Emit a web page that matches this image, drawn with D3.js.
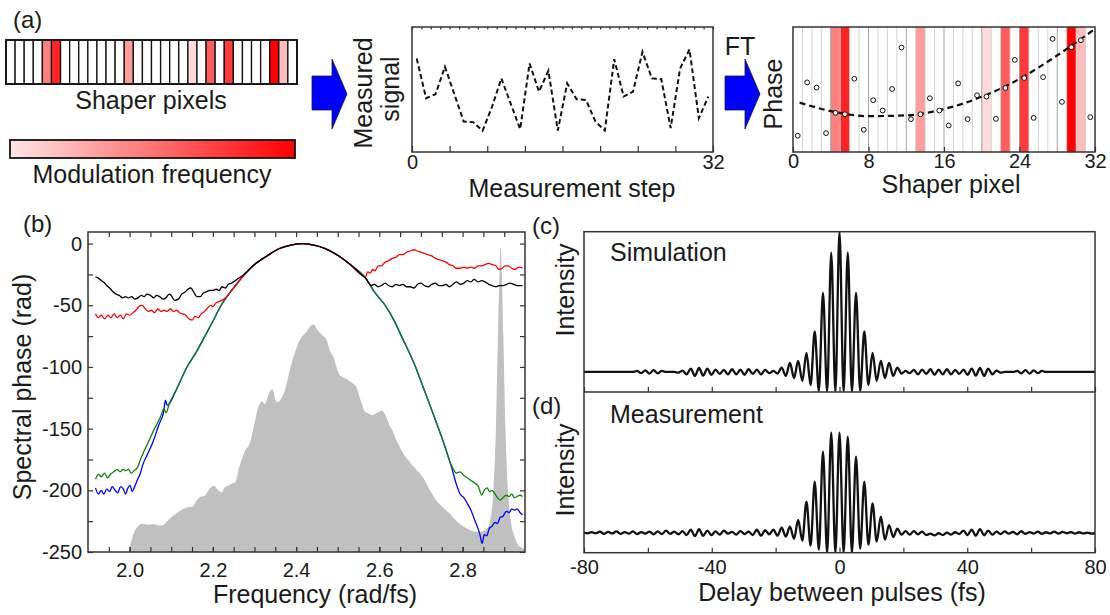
<!DOCTYPE html>
<html>
<head>
<meta charset="utf-8">
<script src="https://cdn.jsdelivr.net/npm/d3@7"></script>
<style>
  body { margin: 0; background: #fff; }
  svg { display: block; font-family: "Liberation Sans", Arial, sans-serif; }
</style>
</head>
<body>
<svg id="fig" width="1110" height="615"></svg>
<script>
// ---------------- data ----------------

// (a) shaper pixels that carry a modulation, and their modulation frequency (0..1)
const modPixels = [4, 5, 13, 20, 22, 24, 29, 30];
const modLevels = [0.45, 0.85, 0.32, 0.05, 0.6, 0.75, 1.0, 0.18];

// (a) measured signal for the 32 measurement steps
const measuredSignal = [0.748, 0.430, 0.462, 0.682, 0.463, 0.244, 0.239, 0.170,
  0.360, 0.589, 0.385, 0.183, 0.708, 0.483, 0.650, 0.172,
  0.549, 0.422, 0.416, 0.244, 0.172, 0.743, 0.443, 0.483,
  0.801, 0.589, 0.584, 0.191, 0.668, 0.820, 0.271, 0.443];

// (a) retrieved phase per shaper pixel and the fitted curve
const pixelPhase = [0.130, 0.557, 0.515, 0.151, 0.313, 0.302, 0.586, 0.178,
  0.414, 0.332, 0.504, 0.836, 0.263, 0.302, 0.430, 0.332,
  0.212, 0.549, 0.263, 0.454, 0.443, 0.265, 0.512, 0.737,
  0.592, 0.273, 0.599, 0.905, 0.401, 0.838, 0.894, 0.279];
const fitPixel = [0.7, 4, 8, 12, 16, 20, 24, 28, 31.9];
const fitPhase = [0.395, 0.327, 0.287, 0.293, 0.344, 0.442, 0.585, 0.773, 0.979];

// (b) spectrum [frequency rad/fs, normalised intensity]
const spectrum = [[1.998,0],[2.005,0.04],[2.015,0.075],[2.031,0.092],[2.045,0.088],[2.057,0.09],
  [2.068,0.087],[2.078,0.086],[2.09,0.1],[2.1,0.113],[2.115,0.128],[2.13,0.14],[2.14,0.145],
  [2.151,0.147],[2.16,0.165],[2.168,0.177],[2.181,0.183],[2.192,0.205],[2.203,0.215],[2.213,0.2],
  [2.221,0.194],[2.229,0.21],[2.237,0.215],[2.246,0.222],[2.254,0.226],[2.262,0.27],[2.267,0.291],
  [2.278,0.33],[2.288,0.35],[2.298,0.404],[2.309,0.469],[2.318,0.489],[2.325,0.48],[2.335,0.515],
  [2.343,0.527],[2.352,0.49],[2.358,0.487],[2.365,0.5],[2.373,0.524],[2.385,0.59],[2.399,0.654],
  [2.41,0.69],[2.425,0.714],[2.433,0.73],[2.443,0.738],[2.449,0.725],[2.455,0.714],[2.465,0.7],
  [2.473,0.689],[2.482,0.65],[2.49,0.632],[2.497,0.6],[2.503,0.578],[2.51,0.568],[2.52,0.562],
  [2.533,0.55],[2.545,0.535],[2.552,0.505],[2.558,0.481],[2.563,0.46],[2.573,0.45],[2.584,0.444],
  [2.595,0.452],[2.606,0.458],[2.612,0.45],[2.618,0.433],[2.625,0.41],[2.631,0.395],[2.642,0.36],
  [2.653,0.33],[2.668,0.3],[2.683,0.276],[2.697,0.255],[2.709,0.233],[2.722,0.2],[2.734,0.173],
  [2.75,0.148],[2.769,0.125],[2.786,0.1],[2.803,0.082],[2.82,0.07],[2.837,0.065],[2.85,0.068],
  [2.859,0.076],[2.866,0.1],[2.874,0.2],[2.88,0.4],[2.885,0.7],[2.889,0.92],[2.891,0.99],
  [2.894,0.92],[2.898,0.7],[2.903,0.4],[2.909,0.2],[2.916,0.1],[2.925,0.05],[2.935,0.02],[2.95,0.01]];

// (b) spectral phase traces [frequency, phase rad]
const blueTrace = [[1.918,-198],[1.925,-203],[1.932,-200],[1.938,-203],[1.945,-199],[1.952,-201],
  [1.958,-197],[1.965,-200],[1.972,-202],[1.978,-197],[1.985,-199],[1.99,-203],[1.996,-198],
  [2.001,-196],[2.006,-201],[2.012,-197],[2.018,-192],[2.026,-186],[2.031,-180],[2.044,-170],
  [2.057,-160],[2.07,-147],[2.082,-136],[2.086,-127],[2.09,-131],[2.095,-130],[2.11,-120],
  [2.138,-100],[2.16,-88],[2.181,-75],[2.2,-63],[2.22,-50],[2.245,-38],[2.271,-27],[2.3,-17],
  [2.33,-10],[2.36,-4],[2.39,-1],[2.415,0],[2.44,-1],[2.47,-4],[2.5,-9.5],[2.53,-17],[2.567,-28],
  [2.59,-40],[2.614,-50],[2.635,-62],[2.653,-75],[2.67,-87],[2.687,-100],[2.706,-117],[2.726,-135],
  [2.75,-157],[2.775,-183],[2.785,-195],[2.794,-203],[2.803,-206],[2.812,-211],[2.82,-216],
  [2.829,-224],[2.835,-229],[2.841,-235],[2.847,-243],[2.852,-236],[2.858,-237],[2.864,-231],
  [2.871,-229],[2.878,-226],[2.884,-227],[2.89,-222],[2.897,-221],[2.905,-217],[2.912,-218],
  [2.918,-215],[2.925,-216],[2.931,-215],[2.938,-218],[2.944,-220]];
const greenTrace = [[1.918,-191],[1.925,-187],[1.932,-189],[1.94,-186],[1.947,-190],[1.954,-187],
  [1.962,-185],[1.97,-183],[1.977,-185],[1.984,-183],[1.99,-184],[1.997,-183],[2.004,-186],
  [2.011,-184],[2.018,-182],[2.026,-175],[2.035,-168],[2.046,-160],[2.057,-152],[2.066,-146],
  [2.075,-140],[2.082,-134],[2.088,-137],[2.095,-130],[2.11,-120],[2.138,-100],[2.16,-88],
  [2.181,-75],[2.2,-63],[2.22,-50],[2.245,-38],[2.271,-27],[2.3,-17],[2.33,-10],[2.36,-4],
  [2.39,-1],[2.415,0],[2.44,-1],[2.47,-4],[2.5,-9.5],[2.53,-17],[2.567,-28],[2.59,-40],[2.614,-50],
  [2.635,-62],[2.653,-75],[2.67,-87],[2.687,-100],[2.706,-117],[2.726,-135],[2.75,-157],[2.775,-181],
  [2.785,-186],[2.794,-185],[2.803,-188],[2.812,-190],[2.82,-192],[2.829,-194],[2.838,-197],
  [2.846,-204],[2.852,-200],[2.859,-198],[2.865,-201],[2.871,-200],[2.878,-203],[2.884,-206],
  [2.89,-208],[2.897,-206],[2.905,-204],[2.912,-205],[2.918,-203],[2.925,-206],[2.931,-205],
  [2.938,-204],[2.944,-205]];
const redTrace = [[1.918,-57],[1.925,-60],[1.932,-58],[1.94,-61],[1.948,-58],[1.955,-60],[1.963,-57],
  [1.97,-60],[1.978,-58],[1.985,-61],[1.992,-57],[2.0,-58],[2.008,-56],[2.015,-54],[2.022,-51],
  [2.03,-50],[2.038,-53],[2.045,-55],[2.052,-54],[2.06,-56],[2.068,-53],[2.075,-55],[2.083,-54],
  [2.09,-55],[2.098,-53],[2.105,-55],[2.113,-54],[2.12,-56],[2.128,-57],[2.135,-58],[2.142,-61],
  [2.15,-62],[2.157,-59],[2.165,-60],[2.172,-57],[2.18,-55],[2.188,-52],[2.195,-50],[2.2,-51],
  [2.208,-48],[2.215,-47],[2.222,-46],[2.23,-44],[2.245,-38],[2.26,-32],[2.271,-27],[2.3,-17],
  [2.33,-10],[2.36,-4],[2.39,-1],[2.415,0],[2.44,-1],[2.47,-4],[2.5,-9.5],[2.53,-17],[2.56,-26],
  [2.567,-27],[2.572,-23],[2.578,-24],[2.584,-21],[2.59,-22],[2.597,-18],[2.605,-18],[2.614,-15],
  [2.622,-14],[2.631,-12],[2.64,-11],[2.648,-9],[2.657,-9],[2.665,-7],[2.674,-6],[2.683,-5],
  [2.69,-6],[2.7,-7],[2.708,-8],[2.717,-9],[2.726,-10],[2.735,-12],[2.743,-13],[2.752,-14],
  [2.76,-15],[2.768,-17],[2.777,-18],[2.785,-20],[2.794,-20],[2.803,-19],[2.811,-20],[2.82,-19],
  [2.829,-20],[2.837,-18],[2.846,-18],[2.854,-17],[2.863,-16],[2.871,-17],[2.88,-18],[2.888,-21],
  [2.895,-20],[2.902,-18],[2.91,-18],[2.918,-20],[2.926,-21],[2.935,-19],[2.944,-20]];
const blackTrace = [[1.918,-27],[1.925,-28],[1.932,-30],[1.94,-32],[1.945,-34],[1.952,-36],[1.96,-39],
  [1.968,-41],[1.975,-42],[1.983,-44],[1.99,-43],[1.997,-44],[2.005,-43],[2.012,-45],[2.02,-44],
  [2.028,-42],[2.035,-43],[2.042,-41],[2.05,-42],[2.058,-44],[2.065,-42],[2.072,-43],[2.08,-45],
  [2.087,-44],[2.095,-41],[2.1,-42],[2.108,-46],[2.117,-45],[2.125,-41],[2.134,-39],[2.14,-37],
  [2.147,-36],[2.155,-40],[2.162,-43],[2.17,-43],[2.177,-40],[2.185,-39],[2.193,-38],[2.2,-38],
  [2.208,-37],[2.215,-38],[2.222,-35],[2.23,-36],[2.237,-33],[2.245,-32],[2.254,-30],[2.262,-28],
  [2.271,-26],[2.3,-17],[2.33,-10],[2.36,-4],[2.39,-1],[2.415,0],[2.44,-1],[2.47,-4],[2.5,-9.5],
  [2.53,-17],[2.56,-26],[2.567,-28],[2.575,-32],[2.58,-34],[2.588,-33],[2.597,-35],[2.605,-34],
  [2.614,-32],[2.622,-34],[2.631,-35],[2.64,-33],[2.648,-34],[2.657,-33],[2.665,-35],[2.674,-35],
  [2.683,-36],[2.692,-33],[2.7,-32],[2.708,-34],[2.717,-35],[2.726,-33],[2.734,-32],[2.743,-34],
  [2.752,-34],[2.76,-33],[2.768,-35],[2.777,-33],[2.785,-31],[2.794,-33],[2.803,-32],[2.811,-30],
  [2.82,-31],[2.828,-29],[2.837,-31],[2.846,-30],[2.854,-31],[2.863,-33],[2.871,-34],[2.88,-35],
  [2.888,-34],[2.897,-34],[2.906,-33],[2.914,-32],[2.923,-33],[2.932,-34],[2.944,-34]];

// (c),(d) fringe extrema: delay (fs) and intensity (background = 1)
const fringeDelay = [-80, -78.90, -77.61, -76.32, -75.02, -73.73, -72.44, -71.14, -69.85, -68.56,
  -67.26, -65.97, -64.68, -63.38, -62.09, -60.79, -59.50, -58.21, -56.91, -55.62, -54.33, -53.03,
  -51.74, -50.45, -49.15, -47.86, -46.57, -45.27, -43.98, -42.69, -41.39, -40.10, -38.81, -37.51,
  -36.22, -34.92, -33.63, -32.34, -31.04, -29.75, -28.46, -27.16, -25.87, -24.58, -23.28, -21.99,
  -20.70, -19.40, -18.11, -16.82, -15.52, -14.23, -12.94, -11.64, -10.35, -9.05, -7.76, -6.47,
  -5.17, -3.88, -2.59, -1.29, 0, 1.29, 2.59, 3.88, 5.17, 6.47, 7.76, 9.05, 10.35, 11.64, 12.94,
  14.23, 15.52, 16.82, 18.11, 19.40, 20.70, 21.99, 23.28, 24.58, 25.87, 27.16, 28.46, 29.75, 31.04,
  32.34, 33.63, 34.92, 36.22, 37.51, 38.81, 40.10, 41.39, 42.69, 43.98, 45.27, 46.57, 47.86, 49.15,
  50.45, 51.74, 53.03, 54.33, 55.62, 56.91, 58.21, 59.50, 60.79, 62.09, 63.38, 64.68, 65.97, 67.26,
  68.56, 69.85, 71.14, 72.44, 73.73, 75.02, 76.32, 77.61, 78.90, 80];
const simIntensity = [1, 1, 1, 1, 1, 1, 1, 1, 1, 1, 1, 1, 1,
  1.05, 0.94, 1.08, 0.92, 1.09, 0.93, 1.05, 1, 1, 1, 0.97, 1.07, 0.88, 1.17, 0.8, 1.2, 0.82,
  1.17, 0.86, 1.12, 0.9, 1.1, 0.88, 1.14, 0.88, 1.12, 0.86, 1.14, 0.9, 1.12, 0.88, 1.1, 0.94, 1.05,
  0.92, 1.22, 0.8, 1.45, 0.7, 1.55, 0.55, 1.95, 0.35, 3.02, 0.05, 4.95, 0, 6.95, 0,
  8,
  0, 6.95, 0, 4.95, 0.05, 3.02, 0.35, 1.95, 0.55, 1.55, 0.7, 1.45, 0.8, 1.22, 0.92, 1.05, 0.94,
  1.1, 0.88, 1.12, 0.9, 1.14, 0.86, 1.12, 0.88, 1.14, 0.88, 1.1, 0.9, 1.12, 0.86, 1.17, 0.82, 1.2,
  0.8, 1.17, 0.88, 1.07, 0.97, 1, 1, 1, 1.05, 0.93, 1.09, 0.92, 1.08, 0.94, 1.05,
  1, 1, 1, 1, 1, 1, 1, 1, 1, 1, 1, 1, 1];
const measIntensity = [1.0, 0.97, 1.03, 0.96, 1.05, 0.94, 1.04, 0.96, 1.06, 0.94, 1.03, 0.95, 1.06,
  0.93, 1.03, 0.95, 1.05, 0.92, 1.06, 0.93, 1.1, 0.94, 1.05, 0.92, 1.08, 0.88, 1.15, 0.83, 1.18,
  0.84, 1.1, 0.88, 1.06, 0.9, 1.1, 0.95, 1.04, 0.9, 1.08, 0.93, 1.05, 0.88, 1.15, 0.85, 1.12, 0.92,
  1.15, 0.85, 1.25, 0.8, 1.3, 0.7, 1.63, 0.6, 2.54, 0.35, 3.54, 0.15, 5.04, 0, 5.99, 0,
  5.99,
  0, 5.79, 0, 4.79, 0.2, 3.54, 0.4, 2.46, 0.55, 1.8, 0.65, 1.38, 0.78, 1.2, 0.9, 1.08,
  0.9, 1.08, 0.92, 1.05, 0.88, 0.95, 0.86, 0.97, 0.88, 1.0, 0.9, 1.02, 0.93, 1.1, 0.88, 1.15, 0.85,
  1.18, 0.87, 1.1, 0.9, 1.05, 0.93, 1.06, 0.95, 1.04, 0.92, 1.07, 0.94, 1.03, 0.95, 1.05, 0.94,
  1.02, 0.96, 1.05, 0.95, 1.04, 0.97, 1.03, 0.95, 1.02, 0.96, 1.0, 0.95, 0.97];

// ---------------- drawing ----------------
const svg = d3.select('#fig');
const TITLE = 25, TICK = 20, INK = '#1a1a1a', FRAME = '#333';

const modColor = d3.scaleLinear().domain([0, 1]).range(['#ffe6e6', '#ff0000']);
const colorOf = k => {
  const i = modPixels.indexOf(k);
  return i < 0 ? null : modColor(modLevels[i]);
};

function label(x, y, text, opts = {}) {
  const t = svg.append('text')
    .attr('x', x).attr('y', y)
    .attr('font-size', opts.size || TITLE)
    .attr('fill', INK)
    .attr('text-anchor', opts.anchor || 'start')
    .text(text);
  if (opts.rotate) t.attr('transform', `rotate(-90,${x},${y})`);
  return t;
}

function axisGroup(axis, transform) {
  const g = svg.append('g').attr('transform', transform).call(axis);
  g.attr('font-size', TICK).attr('font-family', null);
  g.select('.domain').remove();
  g.selectAll('line').attr('stroke', FRAME).attr('stroke-width', 1.2);
  g.selectAll('text').attr('fill', INK);
  return g;
}

function box(x0, y0, x1, y1) {
  svg.append('rect')
    .attr('x', x0).attr('y', y0).attr('width', x1 - x0).attr('height', y1 - y0)
    .attr('fill', 'none').attr('stroke', FRAME).attr('stroke-width', 1.5);
}

function arrow(x, y) {
  // block arrow; x,y = left/top of the body
  const pts = [[0, 17], [20, 17], [20, 0], [35, 35], [20, 70], [20, 51], [0, 51]];
  svg.append('path')
    .attr('d', d3.line()(pts.map(p => [x + p[0], y + p[1]])) + 'Z')
    .attr('fill', '#0000ff').attr('stroke', '#1a1a33').attr('stroke-width', 0.8);
}

// ---- (a) left: shaper pixel bar and colour bar ----
label(13, 28, '(a)', { size: 24 });

const xBar = d3.scaleBand().domain(d3.range(32)).range([6, 297]);
svg.append('g').selectAll('rect').data(d3.range(32)).join('rect')
  .attr('x', d => xBar(d)).attr('y', 40)
  .attr('width', xBar.bandwidth()).attr('height', 44)
  .attr('fill', d => colorOf(d) || '#fff')
  .attr('stroke', '#111').attr('stroke-width', 1.3);
svg.append('rect').attr('x', 6).attr('y', 40).attr('width', 291).attr('height', 44)
  .attr('fill', 'none').attr('stroke', '#111').attr('stroke-width', 1.8);
label(151, 109, 'Shaper pixels', { anchor: 'middle' });

const grad = svg.append('defs').append('linearGradient').attr('id', 'modgrad');
grad.selectAll('stop').data([0, 1]).join('stop')
  .attr('offset', d => d * 100 + '%').attr('stop-color', d => modColor(d));
svg.append('rect').attr('x', 10).attr('y', 140).attr('width', 285).attr('height', 18)
  .attr('fill', 'url(#modgrad)').attr('stroke', '#111').attr('stroke-width', 1.8);
label(152, 183, 'Modulation frequency', { anchor: 'middle' });

arrow(312, 59);

// ---- (a) middle: measured signal ----
const xStep = d3.scaleBand().domain(d3.range(32)).range([412, 713]);
const xStepLin = d3.scaleLinear().domain([0, 32]).range([412, 713]);
const yMeas = d3.scaleLinear().domain([0, 1]).range([152, 27]);
box(412, 27, 713, 152);
axisGroup(d3.axisBottom(xStepLin).tickValues(d3.range(0, 33, 4)).tickSizeInner(-6).tickSizeOuter(0)
  .tickPadding(3).tickFormat(d => (d === 0 || d === 32) ? d : ''), 'translate(0,152)');
axisGroup(d3.axisTop(xStepLin).tickValues(d3.range(0, 33)).tickSize(-2.5).tickFormat(''), 'translate(0,27)');
svg.append('path').datum(measuredSignal)
  .attr('d', d3.line().x((d, i) => xStep(i) + xStep.bandwidth() / 2).y(d => yMeas(d)))
  .attr('fill', 'none').attr('stroke', '#111').attr('stroke-width', 2)
  .attr('stroke-dasharray', '5,3');
label(372, 93, 'Measured', { anchor: 'middle', rotate: true });
label(399, 89, 'signal', { anchor: 'middle', rotate: true });
label(572, 197, 'Measurement step', { anchor: 'middle' });

arrow(725, 59);
label(740, 55, 'FT', { anchor: 'middle' });

// ---- (a) right: phase per pixel ----
const xPix = d3.scaleLinear().domain([0, 32]).range([793, 1095]);
const xPixBand = d3.scaleBand().domain(d3.range(32)).range([793, 1095]);
const yPhase = d3.scaleLinear().domain([0, 1]).range([152, 27]);
svg.append('g').selectAll('rect').data(modPixels).join('rect')
  .attr('x', d => xPixBand(d)).attr('y', 27)
  .attr('width', xPixBand.bandwidth()).attr('height', 125)
  .attr('fill', d => colorOf(d));
svg.append('g').selectAll('line').data(d3.range(1, 32)).join('line')
  .attr('x1', d => xPix(d)).attr('x2', d => xPix(d)).attr('y1', 27).attr('y2', 152)
  .attr('stroke', d => d % 4 === 0 ? '#999' : '#cfcfcf').attr('stroke-width', 1)
  .attr('opacity', 0.9);
box(793, 27, 1095, 152);
axisGroup(d3.axisBottom(xPix).tickValues([0, 8, 16, 24, 32]).tickSizeInner(-5).tickSizeOuter(0)
  .tickPadding(1.5), 'translate(0,152)');
svg.append('path').datum(fitPixel.map((p, i) => [p, fitPhase[i]]))
  .attr('d', d3.line().x(d => xPix(d[0])).y(d => yPhase(d[1])).curve(d3.curveMonotoneX))
  .attr('fill', 'none').attr('stroke', '#111').attr('stroke-width', 2.2)
  .attr('stroke-dasharray', '6,4');
svg.append('g').selectAll('circle').data(pixelPhase).join('circle')
  .attr('cx', (d, i) => xPixBand(i) + xPixBand.bandwidth() / 2)
  .attr('cy', d => yPhase(d)).attr('r', 2.4)
  .attr('fill', '#fff').attr('stroke', '#111').attr('stroke-width', 1);
label(782, 94, 'Phase', { anchor: 'middle', rotate: true });
label(951, 193, 'Shaper pixel', { anchor: 'middle' });

// ---- (b) spectral phase ----
const xB = d3.scaleLinear().domain([1.9, 2.95]).range([88, 525]);
const yB = d3.scaleLinear().domain([-250, 9.4]).range([552, 232]);
const ySpec = d3.scaleLinear().domain([0, 1]).range([yB(-250), yB(0)]);

svg.append('clipPath').attr('id', 'clipB').append('rect')
  .attr('x', 88).attr('y', 232).attr('width', 437).attr('height', 320);
const gB = svg.append('g').attr('clip-path', 'url(#clipB)');
gB.append('path').datum(spectrum)
  .attr('d', d3.area().x(d => xB(d[0])).y0(yB(-250)).y1(d => ySpec(d[1])).curve(d3.curveMonotoneX))
  .attr('fill', '#c0c0c0');
const phaseLine = d3.line().x(d => xB(d[0])).y(d => yB(d[1])).curve(d3.curveMonotoneX);
[[blueTrace, '#0000ff'], [greenTrace, '#12800f'], [redTrace, '#ff0000'], [blackTrace, '#000']]
  .forEach(([trace, color]) => {
    gB.append('path').datum(trace).attr('d', phaseLine)
      .attr('fill', 'none').attr('stroke', color).attr('stroke-width', 1.3);
  });
box(88, 232, 525, 552);

const fTicks = d3.range(39, 59).map(i => i * 0.05);
const pTicks = d3.range(-250, 1, 25);
axisGroup(d3.axisBottom(xB).tickValues(fTicks).tickSize(-5).tickFormat(''), 'translate(0,552)');
axisGroup(d3.axisTop(xB).tickValues(fTicks).tickSize(-5).tickFormat(''), 'translate(0,232)');
axisGroup(d3.axisRight(yB).tickValues(pTicks).tickSize(-5).tickFormat(''), 'translate(525,0)');
axisGroup(d3.axisBottom(xB).tickValues([2.0, 2.2, 2.4, 2.6, 2.8]).tickSizeInner(-5).tickSizeOuter(0)
  .tickPadding(11).tickFormat(d3.format('.1f')), 'translate(0,552)');
axisGroup(d3.axisLeft(yB).tickValues(pTicks).tickSizeInner(-5).tickSizeOuter(0)
  .tickPadding(6).tickFormat(d => d % 50 === 0 ? String(d) : ''), 'translate(88,0)');

label(23, 232, '(b)', { size: 24 });
label(31, 387, 'Spectral phase (rad)', { anchor: 'middle', rotate: true });
label(315, 603, 'Frequency (rad/fs)', { anchor: 'middle' });

// ---- (c),(d) intensity vs delay ----
const X0 = 584, X1 = 1095;
const xC = d3.scaleLinear().domain([-80, 80]).range([X0, X1]);
const yC = d3.scaleLinear().domain([0, 8]).range([392, 231.7]);
const yD = d3.scaleLinear().domain([0, 8]).range([552.7, 392.3]);

svg.append('clipPath').attr('id', 'clipC').append('rect')
  .attr('x', X0).attr('y', 231.7).attr('width', X1 - X0).attr('height', 160.3);
svg.append('clipPath').attr('id', 'clipD').append('rect')
  .attr('x', X0).attr('y', 392.3).attr('width', X1 - X0).attr('height', 160.4);

svg.append('g').attr('clip-path', 'url(#clipC)').append('path')
  .datum(fringeDelay.map((t, i) => [t, simIntensity[i]]))
  .attr('d', d3.line().x(d => xC(d[0])).y(d => yC(d[1])).curve(d3.curveMonotoneX))
  .attr('fill', 'none').attr('stroke', '#111').attr('stroke-width', 2.3);
svg.append('g').attr('clip-path', 'url(#clipD)').append('path')
  .datum(fringeDelay.map((t, i) => [t, measIntensity[i]]))
  .attr('d', d3.line().x(d => xC(d[0])).y(d => yD(d[1])).curve(d3.curveMonotoneX))
  .attr('fill', 'none').attr('stroke', '#111').attr('stroke-width', 2.3);

box(X0, 231.7, X1, 552.7);
svg.append('line').attr('x1', X0).attr('x2', X1).attr('y1', 392).attr('y2', 392)
  .attr('stroke', FRAME).attr('stroke-width', 1.5);
const dTicks = d3.range(-80, 81, 20);
axisGroup(d3.axisBottom(xC).tickValues(dTicks).tickSize(-5).tickFormat(''), 'translate(0,392)');
axisGroup(d3.axisBottom(xC).tickValues(dTicks).tickSizeInner(-5).tickSizeOuter(0).tickPadding(7)
  .tickFormat(d => d % 40 === 0 ? String(d) : ''), 'translate(0,552.7)');

label(532, 234, '(c)', { size: 24 });
label(532, 414, '(d)', { size: 24 });
label(610, 261, 'Simulation');
label(610, 423, 'Measurement');
label(574, 290, 'Intensity', { anchor: 'middle', rotate: true });
label(574, 470, 'Intensity', { anchor: 'middle', rotate: true });
label(842, 601, 'Delay between pulses (fs)', { anchor: 'middle' });
</script>
</body>
</html>
